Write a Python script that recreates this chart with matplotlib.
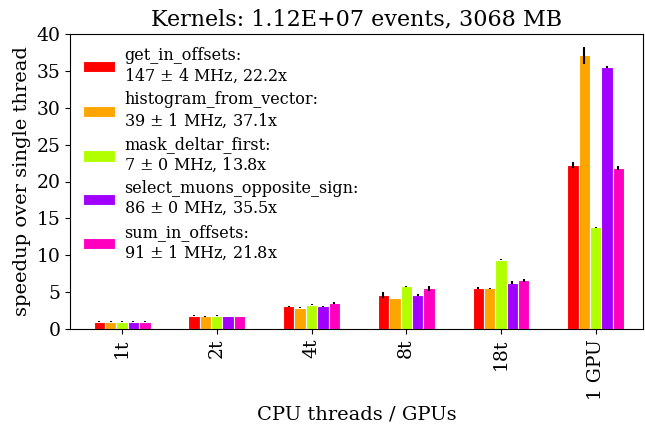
import numpy as np
import matplotlib
matplotlib.use('Agg')
import matplotlib.pyplot as plt

plt.rcParams['font.family'] = 'DejaVu Serif'
plt.rcParams['mathtext.fontset'] = 'dejavuserif'

categories = ['1t', '2t', '4t', '8t', '18t', '1 GPU']
kernels = ['get_in_offsets', 'histogram_from_vector', 'mask_deltar_first',
           'select_muons_opposite_sign', 'sum_in_offsets']
rates = ['147 $\\pm$ 4 MHz, 22.2x', '39 $\\pm$ 1 MHz, 37.1x', '7 $\\pm$ 0 MHz, 13.8x',
         '86 $\\pm$ 0 MHz, 35.5x', '91 $\\pm$ 1 MHz, 21.8x']
colors = ['#ff0000', '#ffa500', '#b2ff00', '#a100ff', '#ff00bf']

speedup = {
    'get_in_offsets':             [1.0, 1.8, 3.1, 4.6, 5.6, 22.2],
    'histogram_from_vector':      [1.0, 1.7, 2.9, 4.2, 5.5, 37.1],
    'mask_deltar_first':          [1.0, 1.8, 3.3, 5.8, 9.4, 13.8],
    'select_muons_opposite_sign': [1.0, 1.8, 3.1, 4.6, 6.3, 35.5],
    'sum_in_offsets':             [1.0, 1.8, 3.5, 5.5, 6.6, 21.8],
}
errors = {
    'get_in_offsets':             [0.02, 0.05, 0.08, 0.45, 0.15, 0.4],
    'histogram_from_vector':      [0.02, 0.05, 0.05, 0.05, 0.08, 1.1],
    'mask_deltar_first':          [0.02, 0.05, 0.08, 0.05, 0.08, 0.05],
    'select_muons_opposite_sign': [0.02, 0.02, 0.05, 0.1, 0.15, 0.15],
    'sum_in_offsets':             [0.02, 0.02, 0.1, 0.35, 0.2, 0.3],
}

fig = plt.figure(figsize=(6.45, 4.28), dpi=100)
ax = fig.add_axes([70 / 645, 1 - 329 / 428, 573 / 645, 295 / 428])

x = np.arange(len(categories))
width = 0.12
for i, k in enumerate(kernels):
    ax.bar(x + (i - 2) * width, speedup[k], width, yerr=errors[k],
           color=colors[i], edgecolor='white', linewidth=0.8,
           error_kw=dict(ecolor='black', elinewidth=1.5, capsize=0),
           label=k + ':\n' + rates[i])

ax.set_xticks(x)
ax.set_xticklabels(categories, rotation=90, fontsize=13.5)
ax.set_yticks(np.arange(0, 41, 5))
ax.tick_params(axis='y', labelsize=13.5)
ax.set_xlim(-0.55, 5.5)
ax.set_ylim(0, 40)
ax.set_xlabel('CPU threads / GPUs', fontsize=14)
ax.set_ylabel('speedup over single thread', fontsize=14)
ax.set_title('Kernels: 1.12E+07 events, 3068 MB', fontsize=16)
ax.legend(loc='upper left', frameon=False, fontsize=11.5, labelspacing=0.4,
          handletextpad=0.6, borderaxespad=0.4)

fig.savefig('out.png', dpi=100)
